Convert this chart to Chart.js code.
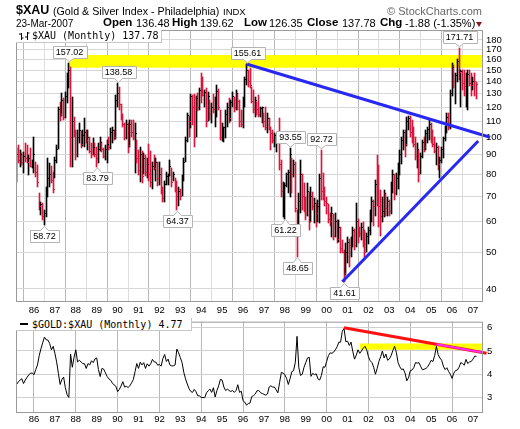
<!DOCTYPE html>
<html>
<head>
<meta charset="utf-8">
<title>$XAU monthly</title>
<script src="https://cdn.jsdelivr.net/npm/chart.js@4.4.1/dist/chart.umd.min.js"></script>
<style>
  html, body { margin: 0; padding: 0; background: #fff; }
  body { position: relative; width: 520px; height: 429px; overflow: hidden; font-family: "Liberation Sans", Arial, sans-serif; }
  canvas { position: absolute; left: 0; }
  #priceChart { top: 0; }
  #ratioChart { top: 312px; }
  .txt { position: absolute; white-space: nowrap; line-height: 1; color: #000; }
  .k { font-weight: bold; font-size: 11.5px; }
  .v { font-size: 11px; }
  .legend { position: absolute; left: 16px; height: 12px; background: #fff; border-right: 1px solid #c8c8c8; border-bottom: 1px solid #c8c8c8; box-sizing: border-box; }
  .legend span { position: absolute; left: 16px; top: 0; line-height: 12px; font: 10px "DejaVu Sans Mono", monospace; white-space: nowrap; }
</style>
</head>
<body>
<canvas id="priceChart" width="520" height="318"></canvas>
<canvas id="ratioChart" width="520" height="117"></canvas>

<div class="txt" style="left:16px;top:4.4px;font-size:12.5px;font-weight:bold">$XAU</div>
<div class="txt" style="left:53px;top:5.8px;font-size:10.7px">(Gold &amp; Silver Index - Philadelphia)</div>
<div class="txt" style="left:223px;top:7px;font-size:9.5px">INDX</div>
<div class="txt" style="right:38px;top:5.7px;font-size:11px;color:#666">© StockCharts.com</div>
<div class="txt" style="left:16px;top:18.5px;font-size:10px">23-Mar-2007</div>
<div class="txt k" style="left:103px;top:17.2px">Open</div>
<div class="txt v" style="left:136px;top:17.7px">136.48</div>
<div class="txt k" style="left:172px;top:17.2px">High</div>
<div class="txt v" style="left:200px;top:17.7px">139.62</div>
<div class="txt k" style="left:244px;top:17.2px">Low</div>
<div class="txt v" style="left:269px;top:17.7px">126.35</div>
<div class="txt k" style="left:307px;top:17.2px">Close</div>
<div class="txt v" style="left:342px;top:17.7px">137.78</div>
<div class="txt k" style="left:380px;top:17.2px">Chg</div>
<div class="txt v" style="left:405px;top:17.7px">-1.88 (-1.35%)</div>
<div style="position:absolute;left:476px;top:22px;width:0;height:0;border-left:3px solid transparent;border-right:3px solid transparent;border-top:5px solid #8b1a1a"></div>

<div class="legend" style="top:30px;width:146px;height:13px">
  <svg width="14" height="12" style="position:absolute;left:2px;top:1px">
    <path d="M3.5 2v7M1 3h2.5M3.5 7h2M9.5 1v8M7 6h2.5M9.5 2h2" stroke="#000" stroke-width="1" fill="none"/>
  </svg>
  <span>$XAU (Monthly) 137.78</span>
</div>
<div class="legend" style="top:318px;width:176px;height:13px">
  <div style="position:absolute;left:4px;top:5px;width:8px;height:2px;background:#000"></div>
  <span style="top:1px">$GOLD:$XAU (Monthly) 4.77</span>
</div>

<script>
// month 0 = Jan 1986, data starts Mar 1985
const FIRST_MONTH = -10;
const yearLabels = ['86','87','88','89','90','91','92','93','94','95','96','97','98','99','00','01','02','03','04','05','06','07'];
const priceTicks = [40, 50, 60, 70, 80, 90, 100, 110, 120, 130, 140, 150, 160, 170, 180];
const ratioTicks = [3, 4, 5, 6];

// $XAU monthly bars, one row per year
const high = [
  93.5, 95.4, 92.6, 90.8, 91.7, 96.4, 95.4, 89.8, 93.5, 87.2,
  100.4, 86.3, 84.6, 71.3, 67.8, 67.1, 64.4, 74.2, 88, 85.4, 84, 81.2,
  88.9, 95.4, 120.3, 124, 130.4, 126.5, 131.7, 147, 157.02, 153.2, 127.8, 113.2,
  104.5, 104.5, 108.8, 104, 104.5, 112, 104.5, 104.5, 100.4, 96.4, 99.4, 96.4,
  94.5, 96.4, 100.4, 97, 93.5, 95.4, 98.4, 100.4, 105.5, 106.6, 104.5, 129.1,
  138.58, 135.7, 122, 115, 108.8, 111, 108.8, 111, 111, 111, 108.8, 98.4,
  92.6, 94.5, 92, 90.8, 89.8, 88, 96, 92, 86, 90, 88, 86,
  86, 83, 74, 77, 81, 80, 87, 83, 81, 78, 77, 74,
  73, 79.5, 88, 100, 116, 114, 130, 129, 130, 128, 130.4, 135,
  147, 144, 133, 134.4, 131.7, 125, 122.7, 130, 127.8, 137, 134, 118,
  109, 106.6, 118, 122.7, 126.5, 125, 131.7, 127.8, 133, 130.4, 125, 118,
  127.8, 144, 155.61, 150, 151.6, 135.7, 133, 127.8, 124, 129, 120.3, 120.3,
  115.6, 120.3, 115.6, 112, 106.6, 104.5, 102.4, 102, 102.4, 112, 87.2, 76.5,
  75.7, 80.4, 82.1, 93.55, 88, 87.2, 86, 64.4, 71.3, 87.2, 80, 75.7,
  69.8, 75.7, 72, 74.2, 72, 69.2, 67.1, 68.5, 80, 92.72, 80.4, 74.2,
  69.8, 67, 63.2, 65.8, 63, 63.2, 60.5, 60.7, 58, 53.8, 50.5, 52.7,
  54.9, 54, 54.9, 58.3, 57.5, 67.1, 61, 58.3, 59.5, 60, 57, 56,
  58.3, 64.5, 69.8, 68.5, 77.3, 89.8, 84.6, 72.7, 69.8, 72.7, 71.3, 69.8,
  68.5, 76.5, 82, 80, 80.4, 85.4, 92.6, 100.4, 104.5, 104.5, 113.2, 114,
  114, 111, 106.6, 100.4, 96.4, 93, 90.8, 98.4, 100.4, 104.5, 106.6, 111,
  108.8, 104.5, 100.4, 96.4, 95, 88.9, 94.5, 100.4, 107, 115.6, 115.6, 133,
  157, 155, 147, 160, 171.71, 150, 150, 150, 147, 150, 150, 147,
  144, 147, 139.62
];
const low = [
  76.5, 85.4, 83.7, 84.6, 80.4, 86.3, 85.4, 79.6, 83.7, 82.9,
  80.4, 78.8, 74.2, 64.4, 62.5, 60.7, 58.72, 61.9, 69.8, 74, 76, 71.3,
  78, 85.4, 93, 110, 114, 111, 112, 122.7, 134.4, 83.7, 83.7, 100.4,
  87.2, 88.9, 96.4, 93.5, 95, 94.5, 96.4, 92.6, 90.8, 88, 89.8, 88.9,
  83.79, 85.4, 92, 91.7, 88, 87.2, 85.4, 92.6, 93, 96.4, 98.4, 99,
  120.3, 117.9, 111, 106.6, 98.4, 99, 90.8, 94, 100.4, 98.4, 80.4, 85.4,
  79.6, 76.5, 75.7, 80, 79, 78, 77, 74, 73, 82, 77, 74.5,
  75, 71, 67.5, 67.5, 75, 75, 79, 74, 77, 72, 64.37, 66,
  68.5, 70, 77, 86, 97, 100, 106, 108, 94.5, 100, 117, 118,
  123, 128, 120, 106.6, 110, 111, 108.8, 115.6, 106.6, 113, 118, 98.4,
  98, 97.4, 99.4, 106.6, 108.8, 110, 120, 116.7, 118, 118, 106.6, 106.6,
  106, 120, 137, 135.7, 134.4, 122.7, 115.6, 113, 114.4, 113.2, 113.2, 108.8,
  106.6, 104.5, 102.4, 104.5, 92.6, 96.4, 94.5, 91.7, 96.4, 82.1, 69.8, 61.9,
  61.22, 74.2, 71.3, 69.8, 71.3, 78.8, 63.8, 48.65, 55, 63.2, 64.4, 63.8,
  60.7, 62, 57.1, 60, 64.4, 59.5, 58.3, 60, 59.5, 68.5, 68.5, 66,
  63, 59.5, 58.5, 54.9, 53.8, 54.9, 52.7, 53.2, 49.6, 49.6, 41.61, 43.5,
  46.7, 45.8, 48.6, 51.6, 50.6, 51.6, 52.7, 54.9, 53.8, 51.6, 48.6, 50,
  52.5, 55.5, 60, 58.5, 62, 66, 58.3, 55, 60, 61.9, 62, 62,
  62, 63, 71.3, 68.5, 70.5, 73, 79.6, 85, 92.6, 88.9, 95, 104.5,
  100.4, 96.4, 94.5, 87.2, 82.9, 76.5, 80, 88, 91.7, 92.6, 96.4, 98.4,
  96.4, 94.5, 90.8, 84.6, 82.1, 78, 85.4, 88, 98, 102.4, 104.5, 105,
  128, 135, 122, 140, 141, 120, 133, 128, 120, 118, 136, 128,
  133, 128, 126.35
];
const close = [
  90, 87, 90, 86, 89, 88, 86, 88, 84, 86,
  90, 81, 76, 66, 66.5, 62, 63, 72, 78, 80, 77, 73,
  87, 93, 118, 115, 125, 113, 128, 145, 150, 100, 110, 104,
  90, 100, 104, 96, 101, 103, 98, 100, 92, 90, 94, 90,
  88, 93, 97, 93, 89, 93, 96, 94, 103, 104, 100, 125,
  130, 122, 114, 108, 100, 108, 95, 108, 103, 100, 102, 88,
  82, 90, 79, 88, 81, 85, 80, 76, 84, 83, 86, 78,
  80, 73, 69, 75, 79, 79.5, 84, 76, 80, 73, 70, 72,
  70, 78, 86, 98, 114, 110, 128, 120, 100, 126, 120, 133,
  130, 129, 131, 110, 128, 115, 120, 118, 122, 132, 120, 100,
  105, 106, 115, 120, 112, 123, 128, 120, 130, 124, 110, 108,
  125, 142, 150, 140, 137, 124, 118, 125, 118, 115, 119, 120,
  110, 106, 112, 106, 102, 98, 101, 101.8, 102.2, 85, 72, 74,
  74.5, 80, 81, 90, 80, 85, 65, 55, 68, 80, 70, 66,
  63, 72, 60, 70, 66, 67, 63, 66, 78, 72, 70, 68,
  67, 61, 60, 63, 55, 60, 54, 58, 51, 50, 44, 50,
  53, 52, 54, 57, 52, 60, 58, 56, 58, 53, 50, 55,
  57, 63, 68, 66, 75, 72, 66, 62, 64, 71, 65, 68,
  64, 75, 80, 71, 78, 84, 90, 98, 103, 96, 110, 112,
  103, 98, 96, 89, 93, 80, 89, 97, 94, 102, 105, 108,
  100, 96, 92, 94, 85, 87, 93, 99, 105, 113, 106, 130,
  152, 140, 145, 158, 148, 149, 138, 136, 140, 146, 138, 137,
  140, 139.66, 137.78
];
// $GOLD:$XAU monthly
const ratio = [
  3.56, 3.67, 3.75, 3.81, 3.6, 3.75, 3.87, 3.97, 4.05, 4.05,
  3.98, 4.2, 4.4, 4.8, 5.1, 5.35, 5.6, 5.48, 5.47, 5.32, 5.05, 5.2,
  4.9, 4.53, 4.04, 3.56, 3.77, 3.88, 3.42, 3.12, 3.0, 4.87, 4.3, 4.73,
  5.05, 4.53, 4.6, 4.53, 4.46, 4.45, 4.25, 4.46, 4.4, 4.58, 4.5, 4.66,
  4.7, 4.2, 3.9, 4.25, 4.22, 4.06, 3.9, 3.8, 3.74, 3.62, 3.54, 3.48,
  3.25, 3.35, 3.5, 3.68, 3.45, 3.48, 3.43, 3.5, 3.63, 3.77, 4.11, 4.46,
  4.25, 4.52, 4.4, 4.5, 4.25, 4.45, 4.35, 4.45, 4.64, 4.53, 4.52, 4.39,
  4.42, 4.35, 4.68, 4.85, 4.55, 4.65, 4.4, 4.36, 4.36, 4.4, 5.08, 4.92,
  4.72, 4.5, 4.08, 3.8, 3.58, 3.38, 3.26, 3.22, 3.35, 3.25, 3.07, 3.07,
  3.0, 3.0, 2.99, 3.2, 3.29, 3.36, 3.22, 3.42, 3.02, 3.3, 3.5, 3.78,
  3.75, 3.45, 3.3, 3.36, 3.3, 3.26, 3.3, 3.22, 3.3, 3.55, 3.22, 3.27,
  2.86, 2.8, 2.67, 2.74, 2.76, 3.04, 3.08, 3.15, 3.29, 3.3, 3.21, 3.17,
  3.14, 3.1, 3.15, 3.45, 3.5, 3.45, 3.45, 3.33, 3.2, 3.65, 4.08, 4.05,
  3.98, 3.82, 3.56, 3.81, 4.11, 4.15, 4.5, 5.63, 4.3, 3.95, 4.0, 4.3,
  4.5, 4.7, 4.73, 3.91, 4.04, 3.98, 4.02, 3.8, 3.75, 3.95, 4.32, 4.3,
  4.55, 4.8, 4.92, 4.9, 4.95, 5.05, 5.18, 5.38, 5.38, 5.85, 5.97, 5.4,
  5.42, 5.24, 5.38, 4.98, 4.65, 4.82, 5.05, 4.9, 5.0, 5.12, 5.2, 5.05,
  4.75, 4.58, 4.5, 4.3, 4.0, 4.25, 4.55, 4.75, 5.0, 4.7, 4.87, 4.6,
  4.66, 4.8, 5.02, 5.2, 4.95, 4.5, 4.32, 4.2, 4.23, 4.05, 3.72, 3.85,
  4.15, 4.18, 4.28, 4.5, 4.48, 4.5, 4.33, 4.19, 4.22, 4.25, 4.32, 4.45,
  4.6, 4.55, 4.8, 5.2, 4.85, 4.7, 4.6, 4.35, 4.2, 4.28, 4.12, 4.0,
  3.82, 4.05, 4.16, 4.18, 4.3, 4.5, 4.46, 4.39, 4.64, 4.46, 4.53, 4.55,
  4.65, 4.78, 4.77
];

// drawn overlays: [month, value] pairs
const priceBand = { from: 20, to: 258, lo: 152.2, hi: 164.3 };
const downTrend = [[122, 155.61], [261.8, 100]];
const upTrend = [[177, 41.8], [255, 97.8]];
const ratioBand = { from: 187, to: 258, lo: 5.05, hi: 5.32 };
const ratioTrend = [[178, 6.0], [259.8, 4.9]];
const ratioTrendTop = [[231, 5.29], [257, 4.94]];
// labelled highs / lows (month, side)
const priceNotes = [[6, 'low'], [20, 'high'], [36, 'low'], [48, 'high'], [82, 'low'], [122, 'high'],
  [144, 'low'], [147, 'high'], [151, 'low'], [165, 'high'], [178, 'low'], [244, 'high']];

const RED = '#dc143c';
const BLUE = '#2828f0';
const YELLOW = '#ffff00';
const FONT = '"Liberation Sans", Arial, sans-serif';

const months = close.map((_, i) => FIRST_MONTH + i);
const barColors = close.map((c, i) => (i > 0 && c < close[i - 1]) ? RED : '#000');
const pts = arr => arr.map(p => ({ x: p[0], y: p[1] }));
const evenYear = c => c.tick && (1986 + Math.round(c.tick.value / 12)) % 2 === 0;

const xAxis = (gridColor, pad) => ({
  type: 'linear', min: -10.33, max: 257.75, offset: false,
  afterBuildTicks: s => { s.ticks = yearLabels.map((_, i) => ({ value: i * 12 })); },
  afterFit: s => { s.height = 17; },
  ticks: { autoSkip: false, maxRotation: 0, padding: pad, color: '#000', font: { family: FONT, size: 9.5 },
           callback: v => yearLabels[Math.round(v / 12)] },
  grid: { drawTicks: false, color: gridColor },
  border: { display: false }
});

// snap the 1px bars onto whole pixels so they stay crisp
const snapBars = {
  id: 'snapBars',
  afterDatasetsUpdate(chart) {
    chart.data.datasets.forEach((ds, i) => {
      const meta = chart.getDatasetMeta(i);
      if (ds.label === 'range') {
        meta.data.forEach(el => { el.x = Math.floor(el.x) + 0.5; el.y = Math.round(el.y); el.base = Math.round(el.base); });
      } else if (ds.label === 'close') {
        meta.data.forEach(el => { el.x = Math.floor(el.x) + 1.5; el.y = Math.floor(el.y) + 0.5; });
      }
    });
  }
};

function frame(chart) {
  const { ctx, chartArea: a } = chart;
  ctx.save();
  ctx.strokeStyle = '#9a9a9a';
  ctx.lineWidth = 1;
  ctx.strokeRect(a.left + 0.5, a.top + 0.5, a.right - a.left - 1, a.bottom - a.top);
  ctx.restore();
}

function drawNote(ctx, x, y, text, below) {
  ctx.font = '9px ' + FONT;
  const w = Math.round(ctx.measureText(text).width) + 6, h = 12;
  const cx = Math.round(x) + 0.5;
  const left = Math.round(cx - w / 2) + 0.5;
  ctx.beginPath();
  let top;
  if (below) {
    top = Math.round(y + 5) + 0.5;
    ctx.moveTo(left, top); ctx.lineTo(cx - 4, top); ctx.lineTo(cx, y + 1); ctx.lineTo(cx + 4, top);
    ctx.lineTo(left + w, top); ctx.lineTo(left + w, top + h); ctx.lineTo(left, top + h);
  } else {
    top = Math.round(y - 5 - h) + 0.5;
    ctx.moveTo(left, top); ctx.lineTo(left + w, top); ctx.lineTo(left + w, top + h); ctx.lineTo(cx + 4, top + h);
    ctx.lineTo(cx, y - 1); ctx.lineTo(cx - 4, top + h); ctx.lineTo(left, top + h);
  }
  ctx.closePath();
  ctx.fillStyle = '#fff'; ctx.fill();
  ctx.strokeStyle = '#b4b4b4'; ctx.lineWidth = 1; ctx.stroke();
  ctx.fillStyle = '#000'; ctx.textAlign = 'center'; ctx.textBaseline = 'middle';
  ctx.fillText(text, cx, top + h / 2 + 0.5);
}

const priceDecor = {
  id: 'priceDecor',
  afterDatasetsDraw(chart) {
    const { ctx, scales } = chart;
    ctx.save();
    priceNotes.forEach(([m, side]) => {
      const i = m - FIRST_MONTH;
      const v = side === 'high' ? high[i] : low[i];
      drawNote(ctx, scales.x.getPixelForValue(m), scales.y.getPixelForValue(v), v.toFixed(2), side === 'low');
    });
    ctx.restore();
  },
  afterDraw: frame
};

Chart.defaults.font.family = FONT;

new Chart(document.getElementById('priceChart'), {
  type: 'bar',
  data: {
    datasets: [
      { type: 'line', label: 'bandHi', data: pts([[priceBand.from, priceBand.hi], [priceBand.to, priceBand.hi]]),
        borderWidth: 0, borderColor: 'rgba(0,0,0,0)', pointRadius: 0, fill: '+1', backgroundColor: YELLOW, order: 10 },
      { type: 'line', label: 'bandLo', data: pts([[priceBand.from, priceBand.lo], [priceBand.to, priceBand.lo]]),
        borderWidth: 0, borderColor: 'rgba(0,0,0,0)', pointRadius: 0, fill: false, order: 10 },
      { type: 'bar', label: 'range', data: months.map((m, i) => ({ x: m, y: [low[i], high[i]] })),
        backgroundColor: barColors, barThickness: 1, order: 5 },
      { type: 'line', label: 'close', data: months.map((m, i) => ({ x: m, y: close[i] })), showLine: false,
        pointStyle: 'line', pointRadius: 0.5, pointBorderWidth: 1, pointBorderColor: barColors, order: 4 },
      { type: 'line', label: 'down', data: pts(downTrend), borderColor: BLUE, borderWidth: 3, pointRadius: 0, clip: false, order: 1 },
      { type: 'line', label: 'up', data: pts(upTrend), borderColor: BLUE, borderWidth: 3, pointRadius: 0, clip: false, order: 1 }
    ]
  },
  options: {
    responsive: false, animation: false, events: [],
    layout: { padding: { left: 16, top: 30, right: 0, bottom: 0 } },
    plugins: { legend: { display: false }, tooltip: { enabled: false } },
    scales: {
      x: xAxis(c => evenYear(c) ? '#b8b8b8' : '#dcdcdc', 4),
      y: {
        type: 'logarithmic', position: 'right', min: 37.2, max: 191.1,
        afterBuildTicks: s => { s.ticks = priceTicks.map(v => ({ value: v })); },
        afterFit: s => { s.width = 37; },
        ticks: { padding: 3, color: '#000', font: { family: FONT, size: 9.5 }, callback: v => String(v) },
        grid: { drawTicks: false, color: '#d8d8d8' },
        border: { display: false }
      }
    }
  },
  plugins: [snapBars, priceDecor]
});

new Chart(document.getElementById('ratioChart'), {
  type: 'line',
  data: {
    datasets: [
      { label: 'bandHi', data: pts([[ratioBand.from, ratioBand.hi], [ratioBand.to, ratioBand.hi]]),
        borderWidth: 0, borderColor: 'rgba(0,0,0,0)', pointRadius: 0, fill: '+1', backgroundColor: YELLOW, order: 10 },
      { label: 'bandLo', data: pts([[ratioBand.from, ratioBand.lo], [ratioBand.to, ratioBand.lo]]),
        borderWidth: 0, borderColor: 'rgba(0,0,0,0)', pointRadius: 0, fill: false, order: 10 },
      { label: 'ratio', data: months.map((m, i) => ({ x: m, y: ratio[i] })),
        borderColor: '#000', borderWidth: 1, pointRadius: 0, tension: 0, order: 5 },
      { label: 'trend', data: pts(ratioTrend), borderColor: '#ff1010', borderWidth: 3, pointRadius: 0, clip: false, order: 2 },
      { label: 'trendTop', data: pts(ratioTrendTop), borderColor: '#ff30ff', borderWidth: 2, pointRadius: 0, clip: false, order: 1 }
    ]
  },
  options: {
    responsive: false, animation: false, events: [],
    layout: { padding: { left: 16, top: 6, right: 0, bottom: 0 } },
    plugins: { legend: { display: false }, tooltip: { enabled: false } },
    scales: {
      x: xAxis(c => evenYear(c) ? '#b8b8b8' : 'rgba(0,0,0,0)', 1.5),
      y: {
        type: 'linear', position: 'right', min: 2.376, max: 6.26,
        afterBuildTicks: s => { s.ticks = ratioTicks.map(v => ({ value: v })); },
        afterFit: s => { s.width = 37; },
        ticks: { padding: 4, color: '#000', font: { family: FONT, size: 9.5 }, callback: v => String(v) },
        grid: { drawTicks: false, color: '#d0d0d0' },
        border: { display: false }
      }
    }
  },
  plugins: [{ id: 'ratioFrame', afterDraw: frame }]
});
</script>
</body>
</html>
